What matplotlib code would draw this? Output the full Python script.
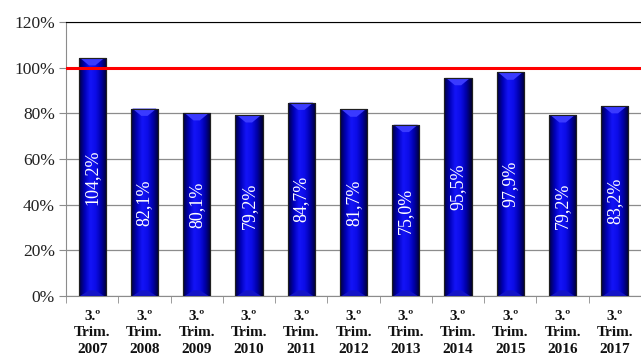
import matplotlib
matplotlib.use("Agg")
import matplotlib.pyplot as plt
import numpy as np
from matplotlib.colors import LinearSegmentedColormap
from matplotlib.patches import Polygon

plt.rcParams['font.family'] = ["Liberation Serif", "DejaVu Serif"]

quarters = ["3.º\nTrim.\n2007", "3.º\nTrim.\n2008", "3.º\nTrim.\n2009", "3.º\nTrim.\n2010",
            "3.º\nTrim.\n2011", "3.º\nTrim.\n2012", "3.º\nTrim.\n2013", "3.º\nTrim.\n2014",
            "3.º\nTrim.\n2015", "3.º\nTrim.\n2016", "3.º\nTrim.\n2017"]
values = [104.2, 82.1, 80.1, 79.2, 84.7, 81.7, 75.0, 95.5, 97.9, 79.2, 83.2]
labels = ["104,2%", "82,1%", "80,1%", "79,2%", "84,7%", "81,7%", "75,0%",
          "95,5%", "97,9%", "79,2%", "83,2%"]
y_ticks = [0, 20, 40, 60, 80, 100, 120]
reference_level = 100

fig = plt.figure(figsize=(6.41, 3.61), dpi=100)
ax = fig.add_axes([0.103, 0.18, 0.897, 0.759])

x = np.arange(len(values))
width = 0.52
bars = ax.bar(x, values, width=width, color="#0000c8", edgecolor="#202020",
              linewidth=0.8, zorder=3)

# horizontal shading across each bar
cmap = LinearSegmentedColormap.from_list(
    "barshade", ["#000040", "#0000b8", "#1414f8", "#0c0ce8", "#0000a8", "#000030"])
grad = np.linspace(0, 1, 64).reshape(1, -1)
for b, v in zip(bars, values):
    x0 = b.get_x()
    im = ax.imshow(grad, cmap=cmap, aspect="auto",
                   extent=[x0, x0 + width, 0, v], zorder=3.5, interpolation="bicubic")
    im.set_clip_path(b)
    # bevel at top and bottom
    bev = 3.2
    ax.add_patch(Polygon([[x0 + 0.03, v], [x0 + width - 0.03, v],
                          [x0 + width / 2 + 0.06, v - bev], [x0 + width / 2 - 0.06, v - bev]],
                         closed=True, facecolor="#3a3aff", edgecolor="none", zorder=3.7))
    ax.add_patch(Polygon([[x0 + 0.03, 0], [x0 + width - 0.03, 0],
                          [x0 + width / 2 + 0.06, 2.5], [x0 + width / 2 - 0.06, 2.5]],
                         closed=True, facecolor="#1414c8", edgecolor="none", zorder=3.7))
    ax.add_patch(plt.Rectangle((x0, 0), width, v, fill=False, edgecolor="#202020",
                               linewidth=0.8, zorder=3.8))

for xi, v, lab in zip(x, values, labels):
    ax.text(xi, v / 2, lab, rotation=90, ha="center", va="center",
            color="white", fontsize=13, zorder=5)

ax.axhline(reference_level, color="#ff0000", linewidth=2.2, zorder=6)

ax.set_xlim(-0.5, len(values) - 0.5)
ax.set_ylim(0, 120)
ax.set_yticks(y_ticks)
ax.set_yticklabels([f"{t}%" for t in y_ticks], fontsize=12.5, color="#222222")
ax.yaxis.grid(True, color="#8c8c8c", linewidth=0.9, zorder=0)
ax.set_axisbelow(True)
ax.tick_params(axis="y", length=5, color="#8c8c8c", pad=3)

ax.set_xticks(x)
ax.set_xticklabels(quarters, fontsize=11, fontweight="bold", linespacing=1.35,
                   color="#111111")
ax.tick_params(axis="x", which="major", length=0, pad=10)
ax.set_xticks(np.arange(-0.5, len(values)), minor=True)
ax.tick_params(axis="x", which="minor", length=5, color="#8c8c8c")

for side in ["left", "bottom"]:
    ax.spines[side].set_color("#8c8c8c")
ax.spines["top"].set_color("#000000")
ax.spines["right"].set_visible(False)

fig.savefig("out.png", dpi=100, facecolor="white")
